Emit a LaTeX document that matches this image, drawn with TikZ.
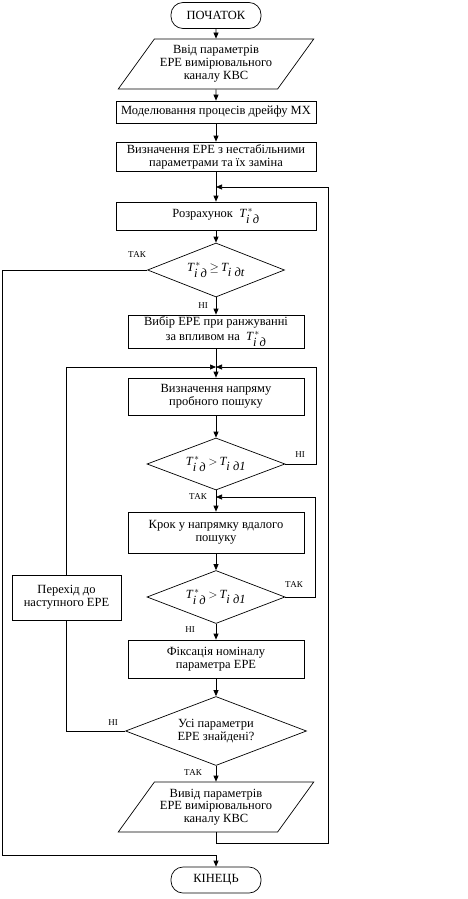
\documentclass[tikz,border=0pt]{standalone}
\usepackage{fontspec}
\setmainfont{Liberation Serif}
\usepackage{tikz}
\usetikzlibrary{shapes.geometric}
\usetikzlibrary{arrows.meta}
\tikzstyle{block}=[draw, rectangle, align=center, inner sep=1pt, minimum width=176pt]
\tikzstyle{term}=[draw, rectangle, rounded corners=12pt, minimum width=90pt, minimum height=26pt]
\tikzstyle{io}=[draw, trapezium, trapezium left angle=48, trapezium right angle=132, trapezium stretches=true, align=center, minimum width=196pt, minimum height=50pt, inner sep=0pt]
\tikzstyle{cond}=[draw, diamond, aspect=2.6, align=center, inner sep=0pt]
\tikzstyle{lbl}=[font=\fontsize{9}{10}\selectfont]
\tikzstyle{flow}=[-{Triangle[length=6pt,width=5pt]}]
\newcommand{\Tst}{$\textit{T}^{\,*}_{\textit{i д}}$}
\newcommand{\Tlim}[1]{$\textit{T}_{\textit{i #1}}$}

\begin{document}
\begin{tikzpicture}
        [x=1pt,y=-1pt,font=\fontsize{12.5}{12.8}\selectfont,line width=0.7pt]
            \useasboundingbox (0,0) rectangle (467,899);
            % main column
            \node [term] (start) at (216,15.5) {ПОЧАТОК};
            \node [io] (in) at (216,64) {Ввід параметрів\\ЕРЕ вимірювального\\каналу КВС};
            \node [block, minimum width=200pt, minimum height=22pt] (model) at (216,112) {Моделювання процесів дрейфу МХ};
            \node [block, minimum width=200pt, minimum height=29pt] (detect) at (216,156.5) {Визначення ЕРЕ з нестабільними\\параметрами та їх заміна};
            \node [block, minimum width=200pt, minimum height=28pt] (calc) at (216,216) {Розрахунок \ \Tst};
            \node [cond, minimum width=137pt, minimum height=54pt] (d1) at (216,270) {\Tst\,$\geq$\,\Tlim{дt}};
            \node [block, minimum height=33pt] (choose) at (216,331.5) {Вибір ЕРЕ при ранжуванні\\[2.5pt]за впливом на \ \Tst};
            \node [block, minimum height=37pt] (dir) at (216,396.5) {Визначення напряму\\пробного пошуку};
            \node [cond, minimum width=138pt, minimum height=52pt] (d2) at (216,464) {\Tst\,$>$\,\Tlim{д1}};
            \node [block, minimum height=41pt] (move) at (216,532.5) {Крок у напрямку вдалого\\пошуку};
            \node [cond, minimum width=138pt, minimum height=53pt] (d3) at (216,597) {\Tst\,$>$\,\Tlim{д1}};
            \node [block, minimum height=38pt] (fix) at (216,659) {Фіксація номіналу\\параметра ЕРЕ};
            \node [cond, aspect=3, minimum width=181pt, minimum height=69pt] (d4) at (216,731) {Усі параметри\\ЕРЕ знайдені?};
            \node [io] (out) at (216,807) {Вивід параметрів\\ЕРЕ вимірювального\\каналу КВС};
            \node [term] (end) at (216,880) {КІНЕЦЬ};
            \node [block, minimum width=109pt, minimum height=45pt] (next) at (66.5,597.5) {Перехід до\\наступного ЕРЕ};
            % branch labels
            \node [lbl] (yes1) at (137,255) {ТАК};
            \node [lbl] (no1) at (203,306) {НІ};
            \node [lbl] (no2) at (300,455) {НІ};
            \node [lbl] (yes2) at (198,497) {ТАК};
            \node [lbl] (yes3) at (294,585) {ТАК};
            \node [lbl] (no3) at (190,630) {НІ};
            \node [lbl] (no4) at (113,723) {НІ};
            \node [lbl] (yes4) at (193,773) {ТАК};
            % joints
            \coordinate (j1) at (216,187);
            \coordinate (j2) at (216,367);
            \coordinate (j3) at (216,497);
            \coordinate (loopA) at (328,843);
            \coordinate (loopB) at (316,367);
            \coordinate (loopC) at (315,497);
            \coordinate (endA) at (2,855);
            % straight flow
            \draw [flow] (start) -- (in);
            \draw [flow] (in) -- (model);
            \draw [flow] (model) -- (detect);
            \draw [flow] (detect) -- (calc);
            \draw [flow] (calc) -- (d1);
            \draw [flow] (d1) -- (choose);
            \draw [flow] (choose) -- (dir);
            \draw [flow] (dir) -- (d2);
            \draw [flow] (d2) -- (move);
            \draw [flow] (move) -- (d3);
            \draw [flow] (d3) -- (fix);
            \draw [flow] (fix) -- (d4);
            \draw [flow] (d4) -- (out);
            % loops
            \draw [flow] (out.south) |- (loopA) |- (j1);
            \draw [flow] (d1.west) -| (endA) -| (end.north);
            \draw [flow] (d2.east) -| (loopB) -- (j2);
            \draw [flow] (d3.east) -| (loopC) -- (j3);
            \draw (d4.west) -| (next.south);
            \draw [flow] (next.north) |- (j2);
        \end{tikzpicture}
\end{document}
